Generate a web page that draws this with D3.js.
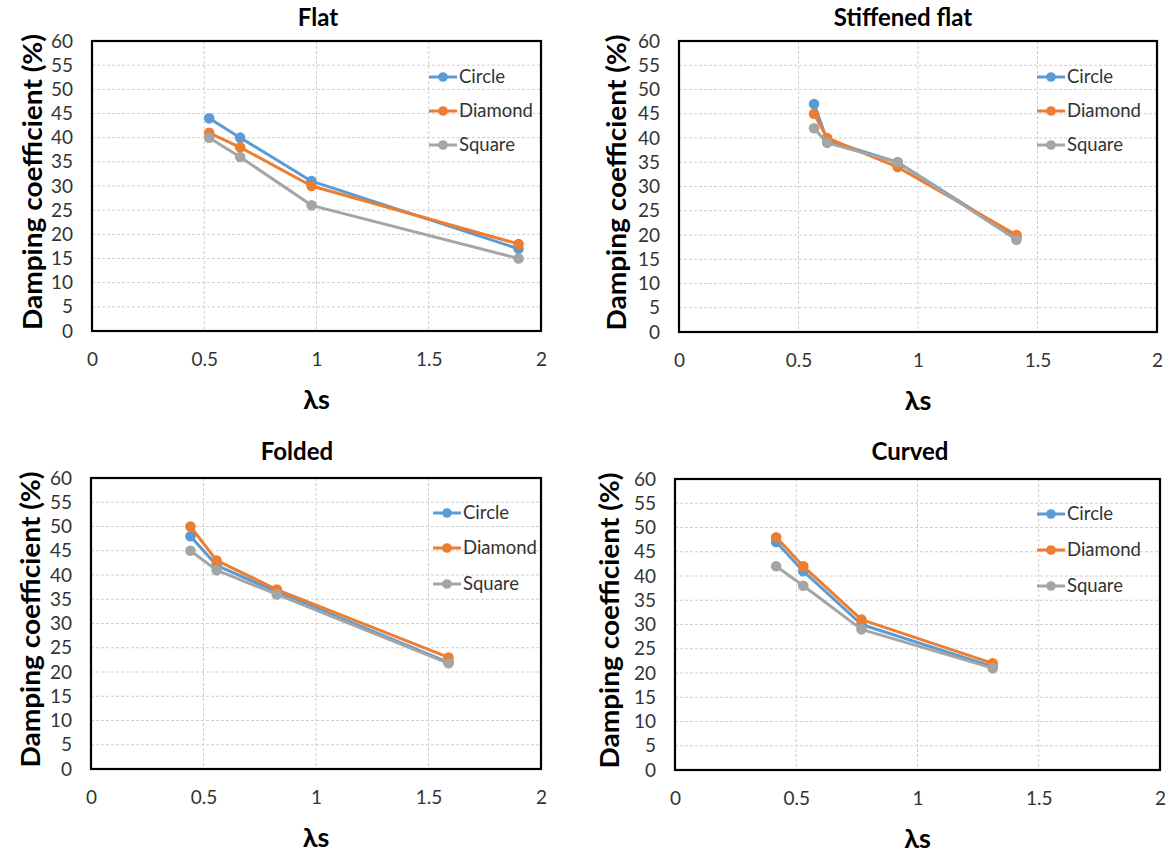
<!DOCTYPE html>
<html>
<head>
<meta charset="utf-8">
<script src="https://cdn.jsdelivr.net/npm/d3@7"></script>
<style>
  html, body { margin: 0; padding: 0; background: #fff; }
  svg { display: block; }
</style>
</head>
<body>
<svg id="chart" width="1169" height="860"></svg>
<script>
// ---------------- DATA ----------------
const panelTitles = ["Flat", "Stiffened flat", "Folded", "Curved"];
const seriesNames = ["Circle", "Diamond", "Square"];
const xTicks = [0, 0.5, 1, 1.5, 2];
const yTicks = [0, 5, 10, 15, 20, 25, 30, 35, 40, 45, 50, 55, 60];
const xAxisTitle = "λs";
const yAxisTitle = "Damping coefficient (%)";

const flatX = [0.522, 0.66, 0.978, 1.9];
const flatCircle = [44, 40, 31, 17];
const flatDiamond = [41, 38, 30, 18];
const flatSquare = [40, 36, 26, 15];

const stiffX = [0.565, 0.62, 0.915, 1.412];
const stiffCircle = [47, 39.5, 35, 19.5];
const stiffDiamond = [45, 40, 34, 20];
const stiffSquare = [42, 39, 35, 19];

const foldedX = [0.442, 0.558, 0.826, 1.589];
const foldedCircle = [48, 42, 36.5, 22];
const foldedDiamond = [50, 43, 37, 23];
const foldedSquare = [45, 41, 36, 21.8];

const curvedX = [0.417, 0.529, 0.769, 1.31];
const curvedCircle = [47, 41, 30, 21.3];
const curvedDiamond = [48, 42, 31, 22];
const curvedSquare = [42, 38, 29, 21];

// ---------------- LAYOUT / STYLE ----------------
const colors = ["#5B9BD5", "#ED7D31", "#A5A5A5"];
const panels = [
  { title: panelTitles[0], x: flatX, ys: [flatCircle, flatDiamond, flatSquare],
    box: { l: 92, r: 541, t: 41, b: 331 }, titleX: 318, titleY: 18, yTitleX: 33, legX: 429, legY: [77, 111, 145] },
  { title: panelTitles[1], x: stiffX, ys: [stiffCircle, stiffDiamond, stiffSquare],
    box: { l: 679, r: 1157, t: 41, b: 332 }, titleX: 903, titleY: 18, yTitleX: 617, legX: 1037, legY: [77, 111, 145] },
  { title: panelTitles[2], x: foldedX, ys: [foldedCircle, foldedDiamond, foldedSquare],
    box: { l: 91, r: 541, t: 478, b: 769 }, titleX: 297, titleY: 452, yTitleX: 31, legX: 433, legY: [513, 548, 584] },
  { title: panelTitles[3], x: curvedX, ys: [curvedCircle, curvedDiamond, curvedSquare],
    box: { l: 675, r: 1160, t: 479, b: 770 }, titleX: 910, titleY: 452, yTitleX: 610, legX: 1037, legY: [514, 550, 586] }
];

const FONT = "Lato, 'Open Sans', 'Liberation Sans', sans-serif";
const svg = d3.select("#chart");

panels.forEach(p => {
  const g = svg.append("g");
  const xs = d3.scaleLinear().domain([0, 2]).range([p.box.l, p.box.r]);
  const ys = d3.scaleLinear().domain([0, 60]).range([p.box.b, p.box.t]);

  // gridlines
  g.append("g").selectAll("line").data(yTicks.filter(v => v > 0 && v < 60)).join("line")
    .attr("x1", p.box.l).attr("x2", p.box.r)
    .attr("y1", d => ys(d)).attr("y2", d => ys(d))
    .attr("stroke", "#cfcfcf").attr("stroke-width", 1).attr("stroke-dasharray", "3,2");
  g.append("g").selectAll("line").data(xTicks.filter(v => v > 0 && v < 2)).join("line")
    .attr("y1", p.box.t).attr("y2", p.box.b)
    .attr("x1", d => xs(d)).attr("x2", d => xs(d))
    .attr("stroke", "#cfcfcf").attr("stroke-width", 1).attr("stroke-dasharray", "3,2");

  // axes (labels only, using d3 axes)
  const yAxis = d3.axisLeft(ys).tickValues(yTicks).tickSize(0).tickPadding(19).tickFormat(d3.format("d"));
  const yg = g.append("g").attr("transform", `translate(${p.box.l},0)`).call(yAxis);
  yg.select(".domain").remove();
  yg.selectAll("text").attr("font-family", FONT).attr("font-size", 19).attr("fill", "#333");

  const xAxis = d3.axisBottom(xs).tickValues(xTicks).tickSize(0).tickPadding(22).tickFormat(d => d3.format("")(d));
  const xg = g.append("g").attr("transform", `translate(0,${p.box.b})`).call(xAxis);
  xg.select(".domain").remove();
  xg.selectAll("text").attr("font-family", FONT).attr("font-size", 19).attr("fill", "#333");

  // plot border
  g.append("rect")
    .attr("x", p.box.l).attr("y", p.box.t)
    .attr("width", p.box.r - p.box.l).attr("height", p.box.b - p.box.t)
    .attr("fill", "none").attr("stroke", "#000").attr("stroke-width", 2.2);

  // series
  const line = d3.line().x(d => xs(d[0])).y(d => ys(d[1]));
  p.ys.forEach((vals, si) => {
    const pts = p.x.map((xv, i) => [xv, vals[i]]);
    g.append("path").datum(pts).attr("d", line)
      .attr("fill", "none").attr("stroke", colors[si]).attr("stroke-width", 3)
      .attr("stroke-linejoin", "round");
    g.append("g").selectAll("circle").data(pts).join("circle")
      .attr("cx", d => xs(d[0])).attr("cy", d => ys(d[1])).attr("r", 5.3)
      .attr("fill", colors[si]);
  });

  // legend
  seriesNames.forEach((name, si) => {
    const ly = p.legY[si];
    g.append("line").attr("x1", p.legX).attr("x2", p.legX + 28).attr("y1", ly).attr("y2", ly)
      .attr("stroke", colors[si]).attr("stroke-width", 3);
    g.append("circle").attr("cx", p.legX + 14).attr("cy", ly).attr("r", 4.8).attr("fill", colors[si]);
    g.append("text").attr("x", p.legX + 30).attr("y", ly).attr("dy", "0.35em")
      .attr("font-family", FONT).attr("font-size", 18.5).attr("fill", "#333").text(name);
  });

  // titles
  g.append("text").attr("x", p.titleX).attr("y", p.titleY).attr("dy", "0.35em")
    .attr("text-anchor", "middle").attr("font-family", FONT).attr("font-weight", "bold")
    .attr("font-size", 24).attr("fill", "#000").text(p.title);
  g.append("text").attr("x", (p.box.l + p.box.r) / 2).attr("y", p.box.b + 69).attr("dy", "0.35em")
    .attr("text-anchor", "middle").attr("font-family", FONT).attr("font-weight", "bold")
    .attr("font-size", 27).attr("fill", "#000").text(xAxisTitle);
  const cy = (p.box.t + p.box.b) / 2 - 4;
  g.append("text").attr("transform", `translate(${p.yTitleX},${cy}) rotate(-90)`)
    .attr("dy", "0.35em").attr("text-anchor", "middle").attr("font-family", FONT)
    .attr("font-weight", "bold").attr("font-size", 26).attr("fill", "#000")
    .attr("textLength", 296).attr("lengthAdjust", "spacingAndGlyphs").text(yAxisTitle);
});
</script>
</body>
</html>
